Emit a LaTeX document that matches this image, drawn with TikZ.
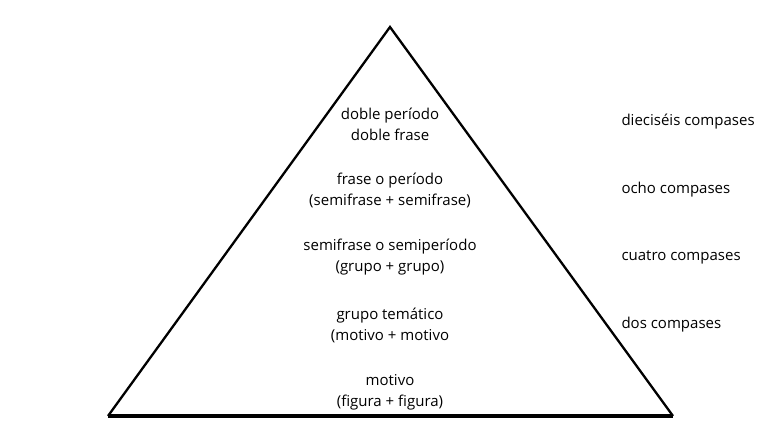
\documentclass[tikz,border=0pt]{standalone}
\usepackage{fontspec}
\setmainfont{Open Sans}
\usepackage{tikz}

\begin{document}
\begin{tikzpicture}[x=1pt,y=1pt,
  level/.style={align=center,font=\fontsize{15}{21}\selectfont},
  bars/.style={anchor=west,font=\fontsize{15}{18}\selectfont}]
\useasboundingbox (0,0) rectangle (783,432);
\coordinate (top) at (390,405);
\coordinate (bl) at (108,16);
\coordinate (br) at (673,16);
\draw[line width=2.3pt,line join=miter] (bl) -- (top) -- (br);
\draw[line width=3.5pt] (bl) -- (br);
\node[level] (dp) at (390,308) {doble período\\doble frase};
\node[level] (fp) at (390,242) {frase o período\\(semifrase + semifrase)};
\node[level] (sp) at (390,175) {semifrase o semiperíodo\\(grupo + grupo)};
\node[level] (gt) at (390,107) {grupo temático\\(motivo + motivo};
\node[level] (mo) at (390,40) {motivo\\(figura + figura)};
\node[bars] (c16) at (618,310) {dieciséis compases};
\node[bars] (c8) at (618,242) {ocho compases};
\node[bars] (c4) at (618,175) {cuatro compases};
\node[bars] (c2) at (618,107) {dos compases};
\end{tikzpicture}
\end{document}
